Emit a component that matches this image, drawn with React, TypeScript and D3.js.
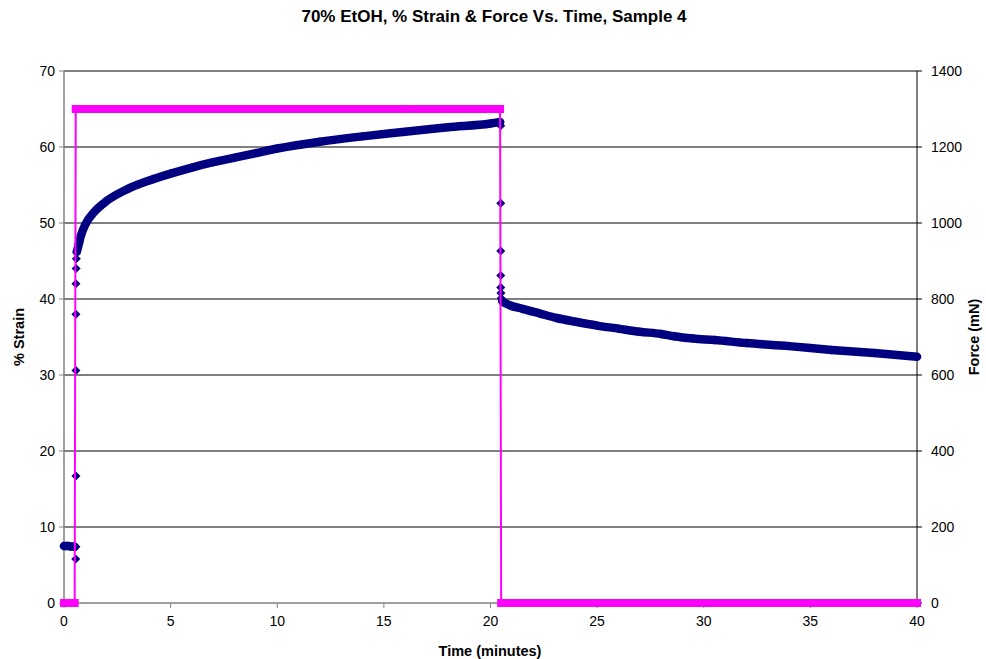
import * as d3 from 'd3';

// force (mN) vs time (min)
const forceTime = [0, 0.5, 0.55, 20.45, 20.5, 40];
const forceValue = [0, 0, 1300, 1300, 0, 0];

// % strain: baseline before loading
const baseTime = [0, 0.1, 0.2, 0.3, 0.4, 0.5];
const baseStrain = [7.5, 7.5, 7.5, 7.45, 7.45, 7.4];

// isolated points during the load step
const stepTime = [0.55, 0.56, 0.56, 0.56, 0.56, 0.56, 0.57, 0.58];
const stepStrain = [5.8, 7.4, 16.7, 30.6, 38.0, 42.0, 44.0, 45.3];

// creep under load
const creepTime = [0.6, 0.7, 0.8, 1.0, 1.4, 2, 3, 4, 5, 6, 7, 8, 9, 10, 12, 14, 16, 18, 20, 20.45];
const creepStrain = [46.2, 47.3, 48.4, 49.8, 51.4, 52.9, 54.5, 55.6, 56.5, 57.3, 58.0, 58.6, 59.2, 59.8, 60.7, 61.4, 62.0, 62.6, 63.1, 63.3];

// isolated points during unload
const dropTime = [20.48, 20.48, 20.48, 20.48, 20.48, 20.49, 20.5];
const dropStrain = [62.8, 52.6, 46.3, 43.1, 41.5, 40.8, 40.1];

// recovery after unload
const recTime = [20.55, 20.8, 21.5, 22.3, 23.1, 24, 25, 26, 27, 28, 28.6, 29.5, 30.5, 32, 34, 36, 38, 40];
const recStrain = [39.7, 39.3, 38.7, 38.1, 37.5, 37.0, 36.5, 36.1, 35.7, 35.4, 35.1, 34.8, 34.6, 34.2, 33.8, 33.3, 32.9, 32.4];

const xTicks = [0, 5, 10, 15, 20, 25, 30, 35, 40];
const strainTicks = [0, 10, 20, 30, 40, 50, 60, 70];
const forceTicks = [0, 200, 400, 600, 800, 1000, 1200, 1400];

const W = 986, H = 659;
const margin = { left: 64, right: 69, top: 71, bottom: 56 };
const FONT = "'Liberation Sans', Arial, sans-serif";
const NAVY = '#000080';
const MAGENTA = '#FF00FF';

const App = () => {
  const x = d3.scaleLinear().domain([0, 40]).range([margin.left, W - margin.right]);
  const yL = d3.scaleLinear().domain([0, 70]).range([H - margin.bottom, margin.top]);
  const yR = d3.scaleLinear().domain([0, 1400]).range([H - margin.bottom, margin.top]);

  const strainLine = d3.line<[number, number]>()
    .x(d => x(d[0]))
    .y(d => yL(d[1]))
    .curve(d3.curveMonotoneX);
  const forceLine = d3.line<[number, number]>()
    .x(d => x(d[0]))
    .y(d => yR(d[1]));

  const zip = (a: number[], b: number[]) => a.map((v, i) => [v, b[i]] as [number, number]);
  const base = zip(baseTime, baseStrain);
  const steps = zip(stepTime, stepStrain);
  const creep = zip(creepTime, creepStrain);
  const drops = zip(dropTime, dropStrain);
  const rec = zip(recTime, recStrain);
  const force = zip(forceTime, forceValue);

  // runs where force stays constant -> dense square markers look like a bar
  const forceRuns: [number, number][][] = [];
  for (let i = 0; i < force.length - 1; i++) {
    if (force[i][1] === force[i + 1][1]) forceRuns.push([force[i], force[i + 1]]);
  }

  const diamond = (cx: number, cy: number, r: number) =>
    `M${cx},${cy - r}L${cx + r},${cy}L${cx},${cy + r}L${cx - r},${cy}Z`;

  const bottom = H - margin.bottom;
  const left = margin.left, right = W - margin.right;

  return (
    <svg width={W} height={H} style={{ position: 'absolute', left: 0, top: 0, background: '#fff' }} fontFamily={FONT}>
      <rect x={0} y={0} width={W} height={H} fill="#fff" />
      <text x={494} y={22} textAnchor="middle" fontSize={17} fontWeight="bold">
        70% EtOH, % Strain &amp; Force Vs. Time, Sample 4
      </text>

      {/* gridlines */}
      {strainTicks.slice(1).map(t => (
        <line key={'g' + t} x1={left} x2={right} y1={yL(t)} y2={yL(t)} stroke="#000" strokeWidth={1} />
      ))}

      {/* axes */}
      <line x1={left} x2={left} y1={margin.top} y2={bottom} stroke="#808080" strokeWidth={1.5} />
      <line x1={right} x2={right} y1={margin.top} y2={bottom} stroke="#000" strokeWidth={1} />
      <line x1={left} x2={right} y1={bottom} y2={bottom} stroke="#808080" strokeWidth={1.5} />

      {strainTicks.map(t => (
        <g key={'l' + t}>
          <line x1={left - 5} x2={left} y1={yL(t)} y2={yL(t)} stroke="#808080" />
          <text x={left - 9} y={yL(t) + 5} textAnchor="end" fontSize={14}>{t}</text>
        </g>
      ))}
      {forceTicks.map(t => (
        <g key={'r' + t}>
          <line x1={right} x2={right + 5} y1={yR(t)} y2={yR(t)} stroke="#000" />
          <text x={right + 14} y={yR(t) + 5} textAnchor="start" fontSize={14}>{t}</text>
        </g>
      ))}
      {xTicks.map(t => (
        <g key={'x' + t}>
          <line x1={x(t)} x2={x(t)} y1={bottom} y2={bottom + 5} stroke="#808080" />
          <text x={x(t)} y={bottom + 23} textAnchor="middle" fontSize={14}>{t}</text>
        </g>
      ))}

      <text x={490} y={656} textAnchor="middle" fontSize={14.5} fontWeight="bold">Time (minutes)</text>
      <text transform={`translate(24,${(margin.top + bottom) / 2}) rotate(-90)`} textAnchor="middle" fontSize={14.5} fontWeight="bold">% Strain</text>
      <text transform={`translate(979,${(margin.top + bottom) / 2}) rotate(-90)`} textAnchor="middle" fontSize={14.5} fontWeight="bold">Force (mN)</text>

      {/* % strain series */}
      <g fill={NAVY} stroke="none">
        {[base, creep, rec].map((seg, i) => (
          <path key={'s' + i} d={strainLine(seg) || ''} fill="none" stroke={NAVY} strokeWidth={8.5} strokeLinecap="round" strokeLinejoin="round" />
        ))}
        {[...base, ...steps, ...creep, ...drops, ...rec].map((d, i) => (
          <path key={'d' + i} d={diamond(x(d[0]), yL(d[1]), 4.5)} />
        ))}
      </g>

      {/* force series */}
      <path d={forceLine(force) || ''} fill="none" stroke={MAGENTA} strokeWidth={2} />
      {forceRuns.map((run, i) => (
        <path key={'f' + i} d={forceLine(run) || ''} fill="none" stroke={MAGENTA} strokeWidth={8} strokeLinecap="square" />
      ))}
    </svg>
  );
};

export default App;
